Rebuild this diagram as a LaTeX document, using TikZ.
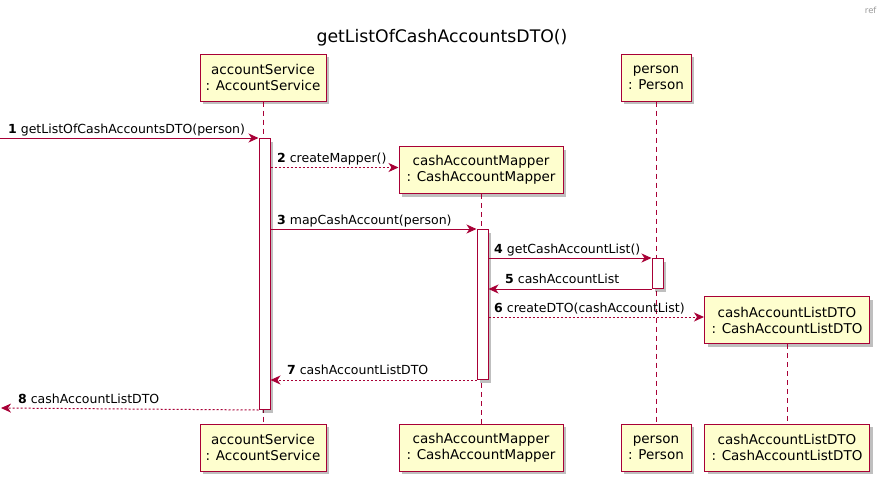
\documentclass[tikz,border=0pt]{standalone}
\usepackage{fontspec}
\setmainfont{DejaVu Sans}
\usetikzlibrary{arrows.meta,shadows}
\definecolor{pborder}{HTML}{A80036}
\definecolor{pfill}{HTML}{FEFECE}
\begin{document}
\begin{tikzpicture}[x=1pt,y=-1pt,
  shad/.style={drop shadow={shadow xshift=3pt,shadow yshift=-3pt,fill=black,opacity=0.25}},
  part/.style={draw=pborder,fill=pfill,line width=1pt,align=center,inner sep=0pt,
    minimum height=47pt,font=\fontsize{13.5}{16}\selectfont,shad},
  actbar/.style={draw=pborder,fill=white,line width=1pt,inner sep=0pt,minimum width=11pt,shad},
  life/.style={draw=pborder,line width=0.9pt,dash pattern=on 5pt off 4pt},
  msg/.style={draw=pborder,line width=1pt,-{Stealth[length=10pt,width=9pt,inset=3pt]}},
  ret/.style={msg,dash pattern=on 2pt off 2pt},
  lbl/.style={anchor=base west,inner sep=0pt,font=\fontsize{12.5}{15}\selectfont},
]
\useasboundingbox (0,0) rectangle (884,485);
\node[anchor=base east,text=black!40,font=\fontsize{8.5}{10}\selectfont] (ref) at (880,13) {ref};
\node[font=\fontsize{17.3}{20}\selectfont] (title) at (442,38) {getListOfCashAccountsDTO()};

% participants top
\node[part,minimum width=126pt] (as) at (263,77.5) {accountService\\: AccountService};
\node[part,minimum width=164pt] (cm) at (481,170) {cashAccountMapper\\: CashAccountMapper};
\node[part,minimum width=70pt] (pe) at (656,77.5) {person\\: Person};
\node[part,minimum width=165pt] (dto) at (787,320) {cashAccountListDTO\\: CashAccountListDTO};
% participants bottom
\node[part,minimum width=126pt] (asb) at (263,447.5) {accountService\\: AccountService};
\node[part,minimum width=164pt] (cmb) at (481,447.5) {cashAccountMapper\\: CashAccountMapper};
\node[part,minimum width=70pt] (peb) at (656,447.5) {person\\: Person};
\node[part,minimum width=165pt] (dtob) at (787,447.5) {cashAccountListDTO\\: CashAccountListDTO};

% lifelines
\draw[life] (as.south) -- (asb.north);
\draw[life] (cm.south) -- (cmb.north);
\draw[life] (pe.south) -- (peb.north);
\draw[life] (dto.south) -- (dtob.north);

% activation bars
\node[actbar,minimum height=271pt,anchor=north] (a1) at (264.5,138) {};
\node[actbar,minimum height=150pt,anchor=north] (a2) at (482.5,229) {};
\node[actbar,minimum height=30pt,anchor=north] (a3) at (657.5,258) {};

% free ends
\coordinate (start) at (0,138);
\coordinate (finish) at (1,408);

% messages
\draw[msg] (start) -- (a1.north west);
\node[lbl] (l1) at (8,133) {\textbf{1} getListOfCashAccountsDTO(person)};

\draw[ret] (a1.east |- 0,167.5) -- (cm.west |- 0,167.5);
\node[lbl] (l2) at (277,162.5) {\textbf{2} createMapper()};

\draw[msg] (a1.east |- a2.north) -- (a2.north west);
\node[lbl] (l3) at (277,224) {\textbf{3} mapCashAccount(person)};

\draw[msg] (a2.east |- a3.north) -- (a3.north west);
\node[lbl] (l4) at (494,253) {\textbf{4} getCashAccountList()};

\draw[msg] (a3.south west) -- (a2.east |- a3.south);
\node[lbl] (l5) at (505,283) {\textbf{5} cashAccountList};

\draw[ret] (a2.east |- 0,317) -- (dto.west |- 0,317);
\node[lbl] (l6) at (494,312) {\textbf{6} createDTO(cashAccountList)};

\draw[ret] (a2.south west) -- (a1.east |- a2.south);
\node[lbl] (l7) at (287,374) {\textbf{7} cashAccountListDTO};

\draw[ret] (a1.south west) -- (finish);
\node[lbl] (l8) at (18,403) {\textbf{8} cashAccountListDTO};
\end{tikzpicture}
\end{document}
